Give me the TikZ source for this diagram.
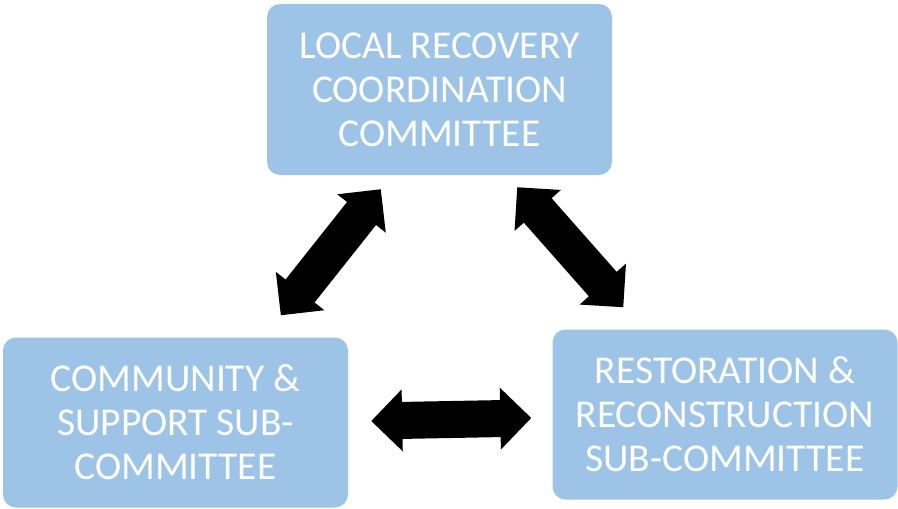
\documentclass[tikz,border=0pt]{standalone}
\usepackage{fontspec}
\setmainfont{Carlito}
\usetikzlibrary{arrows.meta,calc}
\definecolor{boxblue}{HTML}{9DC3E6}
\begin{document}
\begin{tikzpicture}[x=1pt,y=-1pt,
  box/.style={fill=boxblue,rounded corners=13pt,minimum width=345pt,minimum height=170pt,
    text=white,align=center,font=\fontsize{39.5}{44}\selectfont},
  bigarrow/.style={line width=37pt,{Triangle[length=31pt,width=60pt]}-{Triangle[length=31pt,width=60pt]}}]
\useasboundingbox (0,0) rectangle (898,509);
\node [box,minimum height=171pt] (lrcc) at (439.5,89.5) {LOCAL RECOVERY\\COORDINATION\\COMMITTEE};
\node [box] (cs) at (175.5,422.5) {COMMUNITY \&\\SUPPORT SUB-\\COMMITTEE};
\node [box] (rr) at (725,414.5) {RESTORATION \&\\RECONSTRUCTION\\SUB-COMMITTEE};

\draw [bigarrow] ($(cs.north west)+(278,-22)$) -- ($(lrcc.south west)+(114,14)$);
\draw [bigarrow] ($(lrcc.south east)+(-95,12)$) -- ($(rr.north west)+(71,-22)$);
\draw [bigarrow] ($(cs.east)+(23,-1.5)$) -- ($(rr.west)+(-21,3.5)$);
\end{tikzpicture}
\end{document}
